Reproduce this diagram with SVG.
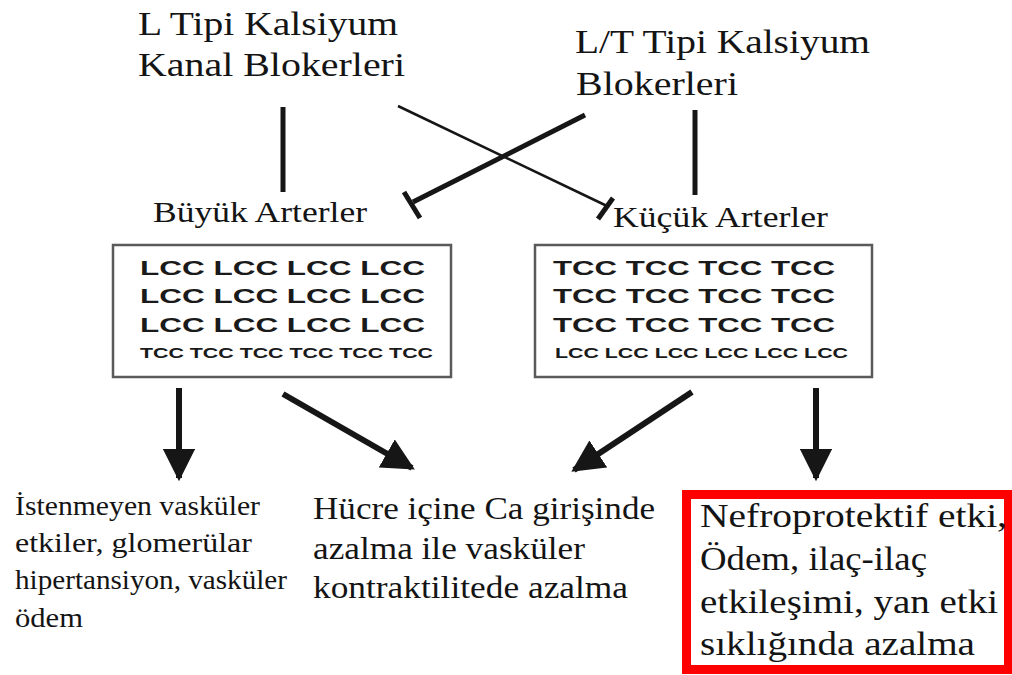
<svg xmlns="http://www.w3.org/2000/svg" width="1012" height="675" viewBox="0 0 1012 675">
<style>
.serif{font-family:"Liberation Serif","Times New Roman",serif;fill:#141414}
.bold{font-family:"Liberation Sans",Arial,sans-serif;font-weight:bold;fill:#1a1a1a}
.box{fill:#fff;stroke:#5a5a5a;stroke-width:2.5}
.ln{stroke:#161616;fill:none;stroke-linecap:butt}
</style>
<defs>
<marker id="ah" viewBox="0 0 10 10" refX="9" refY="5" markerWidth="5.4" markerHeight="5.4" markerUnits="strokeWidth" orient="auto">
<path d="M0,0 L10,5 L0,10 Z" fill="#161616"/>
</marker>
</defs>
<rect width="1012" height="675" fill="#fff"/>

<g id="node-ltype">
<text class="serif" x="138" y="35" font-size="34" textLength="260" lengthAdjust="spacingAndGlyphs">L Tipi Kalsiyum</text>
<text class="serif" x="138" y="76" font-size="34" textLength="267" lengthAdjust="spacingAndGlyphs">Kanal Blokerleri</text>
</g>
<g id="node-lttype">
<text class="serif" x="575" y="53" font-size="34" textLength="295" lengthAdjust="spacingAndGlyphs">L/T Tipi Kalsiyum</text>
<text class="serif" x="576" y="95" font-size="34" textLength="162" lengthAdjust="spacingAndGlyphs">Blokerleri</text>
</g>
<g id="node-buyuk">
<text class="serif" x="153" y="222" font-size="29" textLength="214" lengthAdjust="spacingAndGlyphs">Büyük Arterler</text>
<rect class="box" x="113" y="245" width="338" height="132"/>
<text class="bold" x="140" y="275" font-size="21" textLength="285" lengthAdjust="spacingAndGlyphs">LCC LCC LCC LCC</text>
<text class="bold" x="140" y="303" font-size="21" textLength="285" lengthAdjust="spacingAndGlyphs">LCC LCC LCC LCC</text>
<text class="bold" x="140" y="332" font-size="21" textLength="285" lengthAdjust="spacingAndGlyphs">LCC LCC LCC LCC</text>
<text class="bold" x="140" y="358" font-size="14.5" textLength="293" lengthAdjust="spacingAndGlyphs">TCC TCC TCC TCC TCC TCC</text>
</g>
<g id="node-kucuk">
<text class="serif" x="613" y="227" font-size="29" textLength="215" lengthAdjust="spacingAndGlyphs">Küçük Arterler</text>
<rect class="box" x="535" y="245" width="337" height="132"/>
<text class="bold" x="553" y="275" font-size="21" textLength="282" lengthAdjust="spacingAndGlyphs">TCC TCC TCC TCC</text>
<text class="bold" x="553" y="303" font-size="21" textLength="282" lengthAdjust="spacingAndGlyphs">TCC TCC TCC TCC</text>
<text class="bold" x="553" y="332" font-size="21" textLength="282" lengthAdjust="spacingAndGlyphs">TCC TCC TCC TCC</text>
<text class="bold" x="555" y="358" font-size="14.5" textLength="293" lengthAdjust="spacingAndGlyphs">LCC LCC LCC LCC LCC LCC</text>
</g>
<g id="node-istenmeyen">
<text class="serif" x="15" y="515" font-size="28" textLength="245" lengthAdjust="spacingAndGlyphs">İstenmeyen vasküler</text>
<text class="serif" x="15" y="552" font-size="28" textLength="237" lengthAdjust="spacingAndGlyphs">etkiler, glomerülar</text>
<text class="serif" x="15" y="589" font-size="28" textLength="272" lengthAdjust="spacingAndGlyphs">hipertansiyon, vasküler</text>
<text class="serif" x="15" y="627" font-size="28" textLength="68" lengthAdjust="spacingAndGlyphs">ödem</text>
</g>
<g id="node-hucre">
<text class="serif" x="313" y="519" font-size="32" textLength="342" lengthAdjust="spacingAndGlyphs">Hücre içine Ca girişinde</text>
<text class="serif" x="313" y="559" font-size="32" textLength="272" lengthAdjust="spacingAndGlyphs">azalma ile vasküler</text>
<text class="serif" x="313" y="598" font-size="32" textLength="315" lengthAdjust="spacingAndGlyphs">kontraktilitede azalma</text>
</g>
<g id="node-nefro">
<rect x="686.5" y="494.5" width="322" height="175" fill="#fff" stroke="#ff0000" stroke-width="9"/>
<text class="serif" x="700" y="527" font-size="34" textLength="307" lengthAdjust="spacingAndGlyphs">Nefroprotektif etki,</text>
<text class="serif" x="700" y="570" font-size="34" textLength="227" lengthAdjust="spacingAndGlyphs">Ödem, ilaç-ilaç</text>
<text class="serif" x="700" y="613" font-size="34" textLength="298" lengthAdjust="spacingAndGlyphs">etkileşimi, yan etki</text>
<text class="serif" x="700" y="655" font-size="34" textLength="275" lengthAdjust="spacingAndGlyphs">sıklığında azalma</text>
</g>

<g id="connectors">
<line class="ln" x1="283" y1="107" x2="283" y2="192" stroke-width="5"/>
<line class="ln" x1="695" y1="110" x2="695" y2="195" stroke-width="5"/>
<line class="ln" x1="398" y1="106" x2="607" y2="206" stroke-width="2.5"/>
<line class="ln" x1="598" y1="219" x2="613" y2="198" stroke-width="5"/>
<line class="ln" x1="585" y1="115" x2="413" y2="202" stroke-width="5"/>
<line class="ln" x1="404" y1="192" x2="420" y2="218" stroke-width="5"/>
<line class="ln" x1="179" y1="388" x2="179" y2="478" stroke-width="6" marker-end="url(#ah)"/>
<line class="ln" x1="283" y1="394" x2="412" y2="468" stroke-width="6" marker-end="url(#ah)"/>
<line class="ln" x1="692" y1="392" x2="574" y2="470" stroke-width="6" marker-end="url(#ah)"/>
<line class="ln" x1="816" y1="388" x2="816" y2="478" stroke-width="6" marker-end="url(#ah)"/>
</g>
</svg>
